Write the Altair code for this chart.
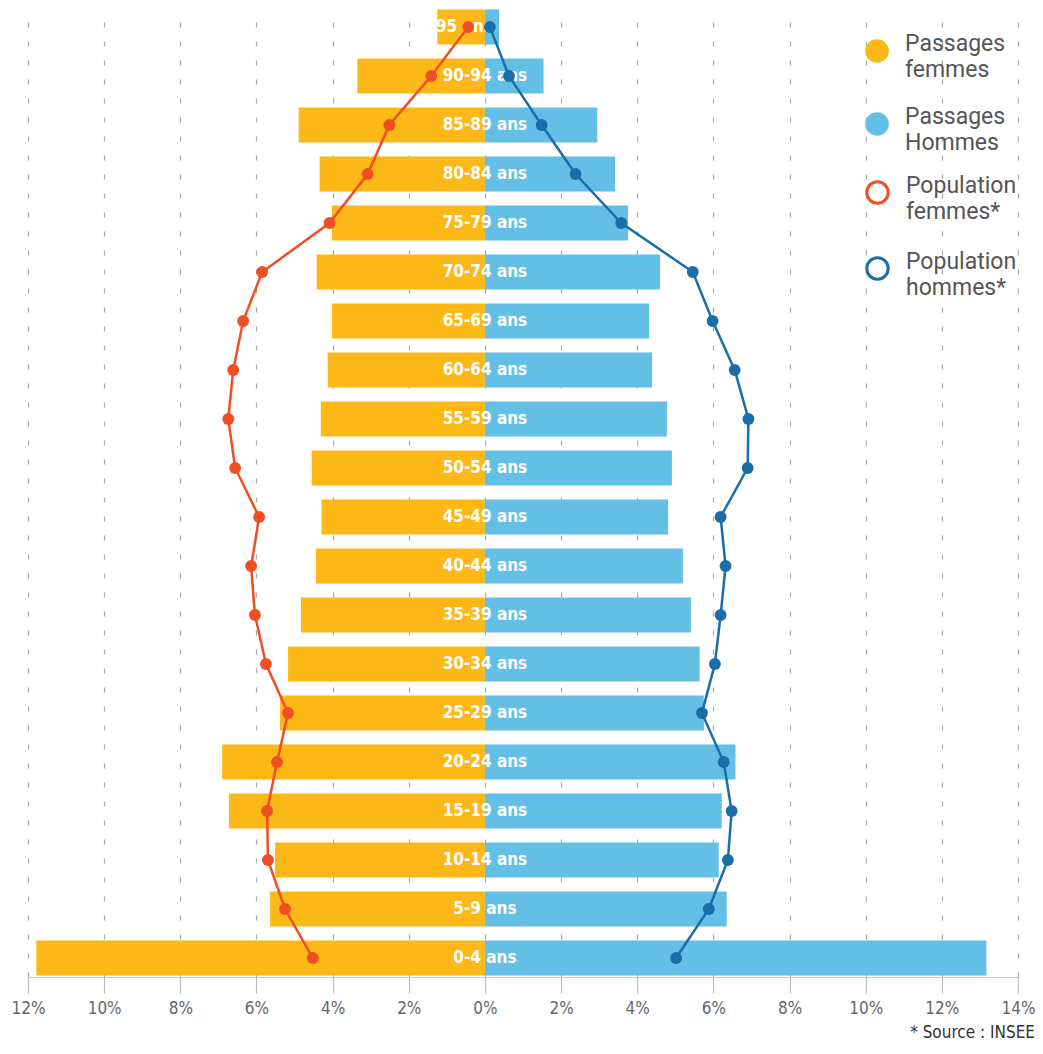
import altair as alt
import pandas as pd

ages = ["95 ans et +", "90-94 ans", "85-89 ans", "80-84 ans", "75-79 ans", "70-74 ans",
        "65-69 ans", "60-64 ans", "55-59 ans", "50-54 ans", "45-49 ans", "40-44 ans",
        "35-39 ans", "30-34 ans", "25-29 ans", "20-24 ans", "15-19 ans", "10-14 ans",
        "5-9 ans", "0-4 ans"]

passages_femmes = [1.25, 3.35, 4.89, 4.34, 4.02, 4.42, 4.02, 4.13, 4.31, 4.55,
                   4.29, 4.44, 4.83, 5.17, 5.38, 6.90, 6.72, 5.51, 5.64, 11.78]
passages_hommes = [0.37, 1.54, 2.95, 3.42, 3.76, 4.60, 4.31, 4.39, 4.78, 4.91,
                   4.81, 5.20, 5.41, 5.64, 5.75, 6.58, 6.22, 6.14, 6.35, 13.17]
population_femmes = [0.44, 1.41, 2.51, 3.08, 4.08, 5.85, 6.35, 6.61, 6.74, 6.56,
                     5.93, 6.14, 6.04, 5.75, 5.17, 5.46, 5.72, 5.70, 5.25, 4.52]
population_hommes = [0.13, 0.63, 1.49, 2.38, 3.58, 5.46, 5.98, 6.56, 6.92, 6.90,
                     6.19, 6.32, 6.19, 6.04, 5.70, 6.27, 6.48, 6.38, 5.88, 5.02]

bar_series = ["Passages femmes", "Passages Hommes"]
pop_series = ["Population femmes*", "Population hommes*"]
bar_colors = ["#FBB817", "#63BFE6"]
pop_colors = ["#F04E23", "#1B6DAA"]

bars = pd.DataFrame(
    [{"age": a, "idx": i, "serie": bar_series[0], "v": -f} for i, (a, f) in enumerate(zip(ages, passages_femmes))]
    + [{"age": a, "idx": i, "serie": bar_series[1], "v": h} for i, (a, h) in enumerate(zip(ages, passages_hommes))]
)
pops = pd.DataFrame(
    [{"age": a, "idx": i, "serie": pop_series[0], "v": -f} for i, (a, f) in enumerate(zip(ages, population_femmes))]
    + [{"age": a, "idx": i, "serie": pop_series[1], "v": h} for i, (a, h) in enumerate(zip(ages, population_hommes))]
)
labels = pd.DataFrame({"age": ages})

FONT = "Roboto"
COND = "Liberation Sans Narrow, DejaVu Sans Condensed, Roboto Condensed, sans-serif"

xscale = alt.Scale(domain=[-12, 14], nice=False, zero=False)
yscale = alt.Scale(domain=ages, paddingInner=0.2857, paddingOuter=0.03)
xaxis = alt.Axis(values=list(range(-12, 15, 2)), labelExpr="abs(datum.value) + '%'",
                 title=None, grid=True, gridColor="#a8a8a8", gridDash=[5, 14], gridWidth=1.2,
                 tickSize=16, tickColor="#bdbdbd", domainColor="#c8c8c8", tickWidth=1.2,
                 labelFlush=False,
                 labelFont=COND, labelFontSize=17, labelColor="#666666", labelPadding=7)

legend_common = dict(title=None, orient="none", symbolType="circle",
                     labelExpr="split(datum.label, ' ')", labelBaseline="alphabetic",
                     labelFont=FONT, labelFontSize=23, labelColor="#555555",
                     labelOffset=16, padding=0)

bar_layer = alt.Chart(bars).mark_bar().encode(
    x=alt.X("v:Q", scale=xscale, axis=xaxis),
    y=alt.Y("age:N", scale=yscale, axis=None, sort=ages),
    fill=alt.Fill("serie:N", scale=alt.Scale(domain=bar_series, range=bar_colors),
                  legend=alt.Legend(legendX=837, legendY=31, symbolSize=560, symbolStrokeWidth=0,
                                    rowPadding=24, **legend_common)),
)

text_layer = alt.Chart(labels).mark_text(font=COND, fontSize=17, fontWeight="bold",
                                          color="white", align="center", baseline="middle").encode(
    x=alt.datum(0),
    y=alt.Y("age:N", sort=ages),
    text="age:N",
)

line_layer = alt.Chart(pops).mark_line(strokeWidth=2.5).encode(
    x=alt.X("v:Q"),
    y=alt.Y("age:N", sort=ages),
    order=alt.Order("idx:Q"),
    color=alt.Color("serie:N", scale=alt.Scale(domain=pop_series, range=pop_colors),
                    legend=alt.Legend(legendX=837, legendY=172, symbolSize=460, symbolStrokeWidth=3,
                                      symbolFillColor="white", rowPadding=26, **legend_common)),
)

point_layer = alt.Chart(pops).mark_circle(size=140, opacity=1).encode(
    x=alt.X("v:Q"),
    y=alt.Y("age:N", sort=ages),
    fill=alt.Fill("serie:N", scale=alt.Scale(domain=pop_series, range=pop_colors), legend=None),
)

chart = alt.layer(bar_layer, text_layer, line_layer, point_layer).resolve_scale(
    fill="independent", color="independent"
).properties(
    width=990, height=969,
    padding={"left": 3, "top": 0, "right": 0, "bottom": 0},
    title=alt.TitleParams("* Source : INSEE", orient="bottom", anchor="end", frame="bounds",
                          font=COND, fontSize=17, fontWeight="normal", color="#333333", offset=9),
).configure(
    style={"guide-label": {"lineHeight": 26}},
    view=alt.ViewConfig(stroke=None),
)

chart.save("out.html", embed_options={"renderer": "svg", "actions": False})
